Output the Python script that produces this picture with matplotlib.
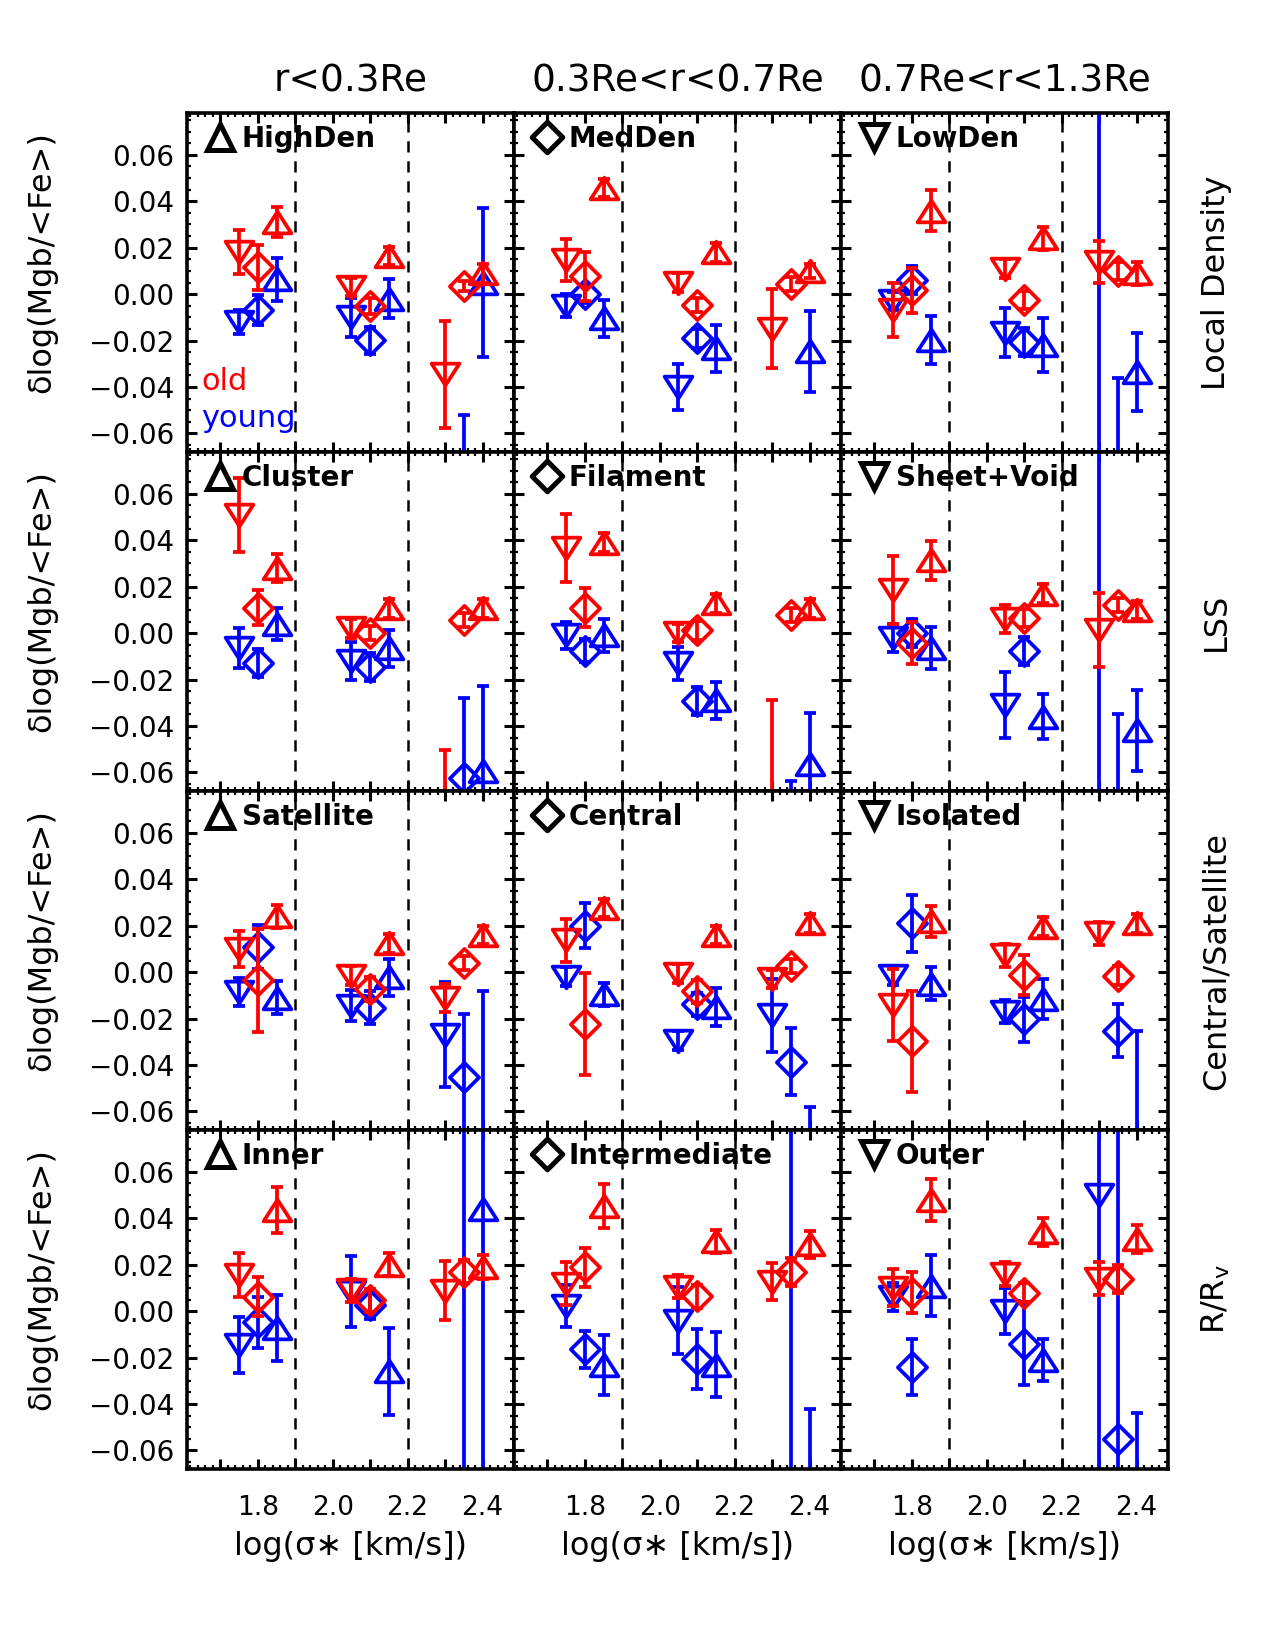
"""Mgb/<Fe> residuals of old and young galaxies versus velocity dispersion, split by environment."""

import matplotlib

matplotlib.use("Agg")
import matplotlib.pyplot as plt
import numpy as np
from matplotlib.path import Path
from matplotlib.ticker import FixedLocator, FuncFormatter, MultipleLocator

nan = np.nan

# log(sigma*) positions: three environment classes inside each sigma bin
SIGMA = [1.75, 1.80, 1.85, 2.05, 2.10, 2.15, 2.30, 2.35, 2.40]
SHAPES = ["down", "diamond", "up"] * 3
BIN_EDGES = [1.9, 2.2]

COL_TITLES = ["r<0.3Re", "0.3Re<r<0.7Re", "0.7Re<r<1.3Re"]
ROW_NAMES = ["Local Density", "LSS", "Central/Satellite", r"R/R$_{\rm v}$"]
PANEL_NAMES = [
    ["HighDen", "MedDen", "LowDen"],
    ["Cluster", "Filament", "Sheet+Void"],
    ["Satellite", "Central", "Isolated"],
    ["Inner", "Intermediate", "Outer"],
]
PANEL_SHAPES = ["up", "diamond", "down"]

# --- Local density ---
highden_old = [0.018, 0.0115, 0.031, 0.003, -0.005, 0.0165, -0.0345, 0.0035, 0.009]
highden_old_err = [0.0095, 0.0097, 0.0065, 0.004, 0.0035, 0.004, 0.023, 0.002, 0.004]
highden_young = [-0.012, -0.0067, 0.0064, -0.0099, -0.0198, -0.0019, nan, -0.09, 0.0049]
highden_young_err = [0.005, 0.0065, 0.0092, 0.0084, 0.0058, 0.0084, nan, 0.038, 0.032]

medden_old = [0.0148, 0.0076, 0.0457, 0.005, -0.0048, 0.018, -0.015, 0.0042, 0.010]
medden_old_err = [0.009, 0.0105, 0.004, 0.004, 0.003, 0.004, 0.017, 0.003, 0.003]
medden_young = [-0.005, 0.0, -0.0105, -0.040, -0.019, -0.0234, nan, nan, -0.0247]
medden_young_err = [0.005, 0.004, 0.008, 0.010, 0.004, 0.010, nan, nan, 0.0176]

lowden_old = [-0.0068, 0.0016, 0.036, 0.011, -0.0025, 0.024, 0.014, 0.0099, 0.009]
lowden_old_err = [0.0116, 0.0098, 0.0087, 0.004, 0.004, 0.005, 0.009, 0.004, 0.005]
lowden_young = [-0.003, 0.0060, -0.0198, -0.0166, -0.0207, -0.0221, -0.2, -0.1, -0.0336]
lowden_young_err = [0.004, 0.006, 0.0103, 0.0105, 0.006, 0.0116, 0.4, 0.064, 0.0169]

# --- Large-scale structure ---
cluster_old = [0.0508, 0.0109, 0.028, 0.002, 0.0, 0.0106, -0.09, 0.0058, 0.0106]
cluster_old_err = [0.016, 0.0076, 0.006, 0.004, 0.003, 0.004, 0.0395, 0.003, 0.004]
cluster_young = [-0.0063, -0.013, 0.004, -0.012, -0.0145, -0.0065, nan, -0.0625, -0.0592]
cluster_young_err = [0.0086, 0.006, 0.007, 0.008, 0.006, 0.008, nan, 0.0346, 0.0364]

filament_old = [0.0367, 0.0109, 0.039, 0.0, 0.0012, 0.0128, -0.09, 0.0077, 0.0106]
filament_old_err = [0.0148, 0.0084, 0.004, 0.004, 0.004, 0.004, 0.061, 0.003, 0.004]
filament_young = [-0.001, -0.0076, -0.001, -0.013, -0.0294, -0.029, nan, -0.09, -0.0563]
filament_young_err = [0.006, 0.005, 0.007, 0.007, 0.006, 0.008, nan, 0.0264, 0.0218]

sheetvoid_old = [0.0186, -0.0044, 0.0314, 0.006, 0.0065, 0.017, 0.0013, 0.012, 0.0099]
sheetvoid_old_err = [0.0145, 0.009, 0.0084, 0.006, 0.004, 0.004, 0.0159, 0.003, 0.004]
sheetvoid_young = [-0.002, 0.0, -0.0064, -0.0308, -0.0078, -0.036, -0.2, -0.1, -0.0418]
sheetvoid_young_err = [0.006, 0.006, 0.009, 0.0142, 0.006, 0.0098, 0.4, 0.065, 0.0175]

# --- Central / satellite ---
satellite_old = [0.0099, -0.0036, 0.024, -0.0015, -0.0073, 0.0124, -0.011, 0.004, 0.016]
satellite_old_err = [0.0076, 0.022, 0.005, 0.004, 0.005, 0.004, 0.006, 0.003, 0.004]
satellite_young = [-0.0087, 0.011, -0.011, -0.0145, -0.0153, -0.0023, -0.0269, -0.045, -0.09]
satellite_young_err = [0.006, 0.0095, 0.007, 0.0066, 0.007, 0.008, 0.0225, 0.027, 0.082]

central_old = [0.0137, -0.0225, 0.0276, -0.0007, -0.0083, 0.016, -0.003, 0.0025, 0.021]
central_old_err = [0.0092, 0.022, 0.004, 0.004, 0.005, 0.004, 0.004, 0.003, 0.004]
central_young = [-0.002, 0.0199, -0.0095, -0.0295, -0.0138, -0.015, -0.0186, -0.0385, -0.09]
central_young_err = [0.004, 0.0097, 0.005, 0.004, 0.005, 0.008, 0.0158, 0.0144, 0.032]

isolated_old = [-0.014, -0.0298, 0.0218, 0.0073, -0.0012, 0.0196, 0.0167, -0.0015, 0.021]
isolated_old_err = [0.0155, 0.0218, 0.0065, 0.005, 0.0087, 0.004, 0.005, 0.004, 0.004]
isolated_young = [-0.0015, 0.021, -0.005, -0.017, -0.0204, -0.0116, nan, -0.0252, -0.09]
isolated_young_err = [0.004, 0.0124, 0.007, 0.005, 0.0095, 0.0087, nan, 0.0113, 0.0645]

# --- Halo-centric radius R/Rv ---
inner_old = [0.0156, 0.0061, 0.0436, 0.009, 0.0047, 0.020, 0.0087, 0.017, 0.019]
inner_old_err = [0.0095, 0.0084, 0.0098, 0.005, 0.005, 0.005, 0.0127, 0.005, 0.005]
inner_young = [-0.0146, -0.0048, -0.0074, 0.0083, 0.0025, -0.026, nan, -0.2, 0.044]
inner_young_err = [0.012, 0.011, 0.0143, 0.0153, 0.006, 0.0188, nan, 0.4, 0.2]

intermediate_old = [0.0118, 0.0188, 0.0454, 0.0105, 0.0064, 0.030, 0.0127, 0.017, 0.0287]
intermediate_old_err = [0.0092, 0.0084, 0.0095, 0.005, 0.005, 0.005, 0.008, 0.006, 0.006]
intermediate_young = [0.0022, -0.0164, -0.0234, -0.0041, -0.0208, -0.0231, nan, -0.2, -0.09]
intermediate_young_err = [0.009, 0.008, 0.0129, 0.0145, 0.0129, 0.014, nan, 0.4, 0.0478]

outer_old = [0.010, 0.008, 0.048, 0.016, 0.008, 0.034, 0.014, 0.014, 0.031]
outer_old_err = [0.008, 0.009, 0.009, 0.005, 0.004, 0.006, 0.007, 0.006, 0.006]
outer_young = [0.006, -0.024, 0.011, 0.0, -0.014, -0.021, 0.05, -0.055, -0.09]
outer_young_err = [0.006, 0.012, 0.013, 0.010, 0.018, 0.009, 0.3, 0.3, 0.046]

PANELS = [
    [(highden_old, highden_old_err, highden_young, highden_young_err),
     (medden_old, medden_old_err, medden_young, medden_young_err),
     (lowden_old, lowden_old_err, lowden_young, lowden_young_err)],
    [(cluster_old, cluster_old_err, cluster_young, cluster_young_err),
     (filament_old, filament_old_err, filament_young, filament_young_err),
     (sheetvoid_old, sheetvoid_old_err, sheetvoid_young, sheetvoid_young_err)],
    [(satellite_old, satellite_old_err, satellite_young, satellite_young_err),
     (central_old, central_old_err, central_young, central_young_err),
     (isolated_old, isolated_old_err, isolated_young, isolated_young_err)],
    [(inner_old, inner_old_err, inner_young, inner_young_err),
     (intermediate_old, intermediate_old_err, intermediate_young, intermediate_young_err),
     (outer_old, outer_old_err, outer_young, outer_young_err)],
]

XLIM = (1.611, 2.484)
YLIM = (-0.068, 0.078)
OLD_COLOR = "#ff0000"
YOUNG_COLOR = "#0000ff"
LW = 2.7


def _poly(verts):
    verts = list(verts) + [verts[0]]
    codes = [Path.MOVETO] + [Path.LINETO] * (len(verts) - 2) + [Path.CLOSEPOLY]
    return Path(verts, codes)


MARKERS = {
    "up": _poly([(-1, -0.78), (0, 0.78), (1, -0.78)]),
    "down": _poly([(-1, 0.78), (1, 0.78), (0, -0.78)]),
    "diamond": _poly([(0, 1), (1, 0), (0, -1), (-1, 0)]),
}
MARKER_SIZE = {"up": 20, "down": 20, "diamond": 21}
KEY_MARKERS = {"up": "^", "down": "v", "diamond": MARKERS["diamond"]}
KEY_SIZE = {"up": 19, "down": 19, "diamond": 22}


def plot_points(ax, values, errors, color):
    for x, y, e, shape in zip(SIGMA, values, errors, SHAPES):
        if np.isnan(y):
            continue
        ax.errorbar(
            [x], [y], yerr=[e],
            fmt="none", ecolor=color, elinewidth=LW, capsize=4.5, capthick=LW,
        )
        ax.plot(
            [x], [y], linestyle="none", marker=MARKERS[shape],
            markersize=MARKER_SIZE[shape], markerfacecolor="none",
            markeredgecolor=color, markeredgewidth=LW,
        )


def style_axes(ax, row, col):
    ax.set_xlim(*XLIM)
    ax.set_ylim(*YLIM)
    for side in ax.spines.values():
        side.set_linewidth(2.6)
    ax.xaxis.set_major_locator(FixedLocator([1.7, 1.8, 1.9, 2.0, 2.1, 2.2, 2.3, 2.4]))
    ax.xaxis.set_major_formatter(
        FuncFormatter(lambda v, _: f"{v:.1f}" if round(v * 10) % 2 == 0 else "")
    )
    ax.xaxis.set_minor_locator(MultipleLocator(0.02))
    ax.yaxis.set_major_locator(MultipleLocator(0.02))
    ax.yaxis.set_major_formatter(FuncFormatter(lambda v, _: f"{v:.2f}".replace("-", "\u2212")))
    ax.yaxis.set_minor_locator(MultipleLocator(0.005))
    ax.tick_params(which="both", direction="in", top=True, right=True)
    ax.tick_params(which="major", length=7, width=2.2)
    ax.tick_params(which="minor", length=3, width=1.6)
    ax.tick_params(axis="x", which="major", pad=19, labelsize=19)
    ax.tick_params(axis="y", which="major", pad=9, labelsize=20)
    if row != 3:
        ax.tick_params(axis="x", labelbottom=False)
    if col != 0:
        ax.tick_params(axis="y", labelleft=False)


def main():
    plt.rcParams["font.family"] = ["DejaVu Sans"]
    fig = plt.figure(figsize=(12.75, 16.5), dpi=100)
    gs = fig.add_gridspec(
        4, 3, left=187 / 1275, right=1168 / 1275, top=1 - 113 / 1650,
        bottom=1 - 1469 / 1650, hspace=0, wspace=0,
    )

    for row in range(4):
        for col in range(3):
            ax = fig.add_subplot(gs[row, col])
            old, old_err, young, young_err = PANELS[row][col]
            for edge in BIN_EDGES:
                ax.axvline(edge, color="black", linewidth=1.8, linestyle=(0, (4.5, 3.5)))
            plot_points(ax, young, young_err, YOUNG_COLOR)
            plot_points(ax, old, old_err, OLD_COLOR)
            style_axes(ax, row, col)

            shape = PANEL_SHAPES[col]
            ax.plot(
                [0.10], [0.929], transform=ax.transAxes, linestyle="none",
                marker=KEY_MARKERS[shape], markersize=KEY_SIZE[shape],
                markerfacecolor="none", markeredgecolor="black",
                markeredgewidth=3.6, clip_on=False,
            )
            ax.text(0.168, 0.899, PANEL_NAMES[row][col], transform=ax.transAxes,
                    fontsize=20, fontweight="semibold", ha="left", va="baseline")

            if row == 0 and col == 0:
                ax.text(0.043, 0.184, "old", color=OLD_COLOR, fontsize=22,
                        transform=ax.transAxes, ha="left", va="baseline")
                ax.text(0.043, 0.074, "young", color=YOUNG_COLOR, fontsize=22,
                        transform=ax.transAxes, ha="left", va="baseline")
            if row == 0:
                ax.text(0.5, 1.092, COL_TITLES[col], transform=ax.transAxes,
                        fontsize=27, ha="center", va="center")
            if row == 3:
                ax.text(0.5, -0.23, "log(\u03c3\u2217 [km/s])", transform=ax.transAxes,
                        fontsize=23, ha="center", va="center")
            if col == 0:
                ax.text(-0.443, 0.56, "\u03b4log(Mgb/<Fe>)", transform=ax.transAxes,
                        fontsize=23, rotation=90, ha="center", va="center")
            if col == 2:
                ax.text(1.147, 0.5, ROW_NAMES[row], transform=ax.transAxes,
                        fontsize=23, rotation=90, ha="center", va="center")

    fig.savefig("out.png", dpi=100)
    plt.close(fig)


if __name__ == "__main__":
    main()
